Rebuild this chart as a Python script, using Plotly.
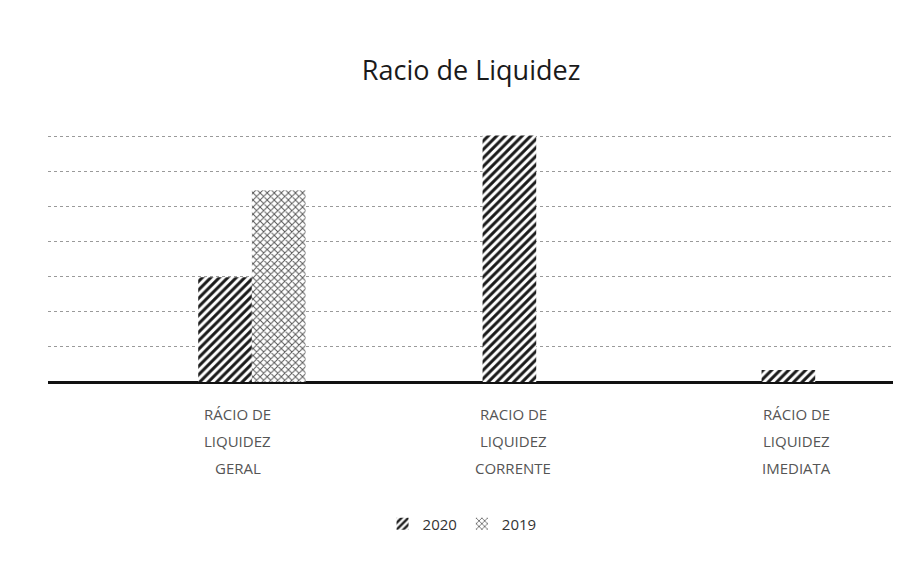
import plotly.graph_objects as go

categories = ["GERAL", "CORRENTE", "IMEDIATA"]
label_lines = [["RÁCIO DE", "LIQUIDEZ", "GERAL"],
               ["RACIO DE", "LIQUIDEZ", "CORRENTE"],
               ["RÁCIO DE", "LIQUIDEZ", "IMEDIATA"]]
values_2020 = [1.49, 3.51, 0.17]
values_2019 = [2.73, None, None]

fig = go.Figure()
fig.add_trace(go.Bar(
    x=categories, y=values_2020, name="2020",
    width=0.2, offset=[-0.2, -0.14, -0.1],
    marker=dict(color="white", line=dict(width=0),
                pattern=dict(shape="/", fgcolor="#1a1a1a", bgcolor="white", fgopacity=1,
                             fillmode="replace", size=6, solidity=0.5)),
))
fig.add_trace(go.Bar(
    x=categories, y=values_2019, name="2019",
    width=0.2, offset=[0, 0, 0],
    marker=dict(color="white", line=dict(width=0),
                pattern=dict(shape="x", fgcolor="#555555", bgcolor="white", fgopacity=1,
                             fillmode="replace", size=5, solidity=0.35)),
))

xshifts = [-14, -7, 8]
for cat, lines, xs in zip(categories, label_lines, xshifts):
    for i, line in enumerate(lines):
        fig.add_annotation(x=cat, y=0, xref="x", yref="y", text=line, showarrow=False,
                           xanchor="center", yanchor="middle", xshift=xs, yshift=-32 - 27 * i,
                           font=dict(family="Open Sans, sans-serif", size=15, color="#555555"))

fig.update_layout(
    width=908, height=569,
    paper_bgcolor="white", plot_bgcolor="white",
    margin=dict(l=40, r=23, t=93, b=195),
    title=dict(text="Racio de Liquidez", x=0.51, xanchor="center", y=0.89, yanchor="middle",
               font=dict(family="Open Sans, sans-serif", size=27, color="#1a1a1a")),
    barmode="overlay",
    showlegend=True,
    legend=dict(orientation="h", x=0.49, xanchor="center", y=-0.505, yanchor="middle",
                font=dict(family="Open Sans, sans-serif", size=15, color="#333333")),
    font=dict(family="Open Sans, sans-serif"),
)
fig.update_xaxes(
    type="category", range=[-0.76, 2.39],
    showgrid=False, showline=False, zeroline=False, ticks="", showticklabels=False,
)
fig.update_yaxes(
    range=[0, 4.0], dtick=0.5, showticklabels=False,
    showgrid=True, gridcolor="#9a9a9a", griddash="dot", gridwidth=1,
    zeroline=True, zerolinecolor="#111111", zerolinewidth=3,
)
fig.write_html("out.html")
